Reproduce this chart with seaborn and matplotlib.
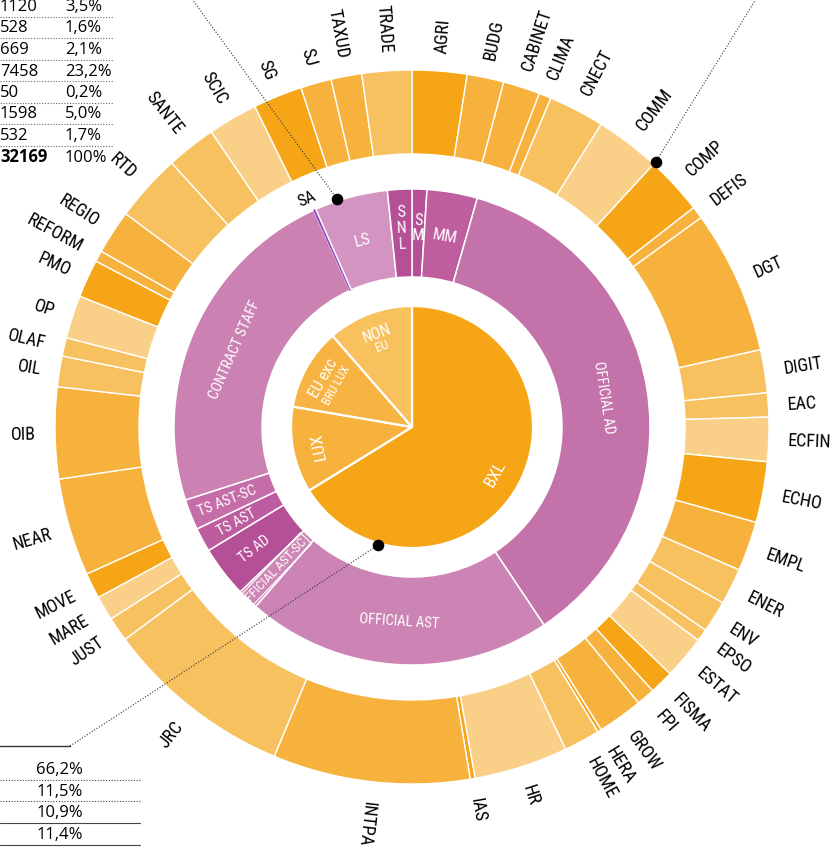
import matplotlib
matplotlib.use("Agg")
import matplotlib.pyplot as plt
from matplotlib import font_manager
import numpy as np
import seaborn as sns

# ---------------- data ----------------
dg_names = ["AGRI", "BUDG", "CABINET", "CLIMA", "CNECT", "COMM", "COMP", "DEFIS",
            "DGT", "DIGIT", "EAC", "ECFIN", "ECHO", "EMPL", "ENER", "ENV", "EPSO",
            "ESTAT", "FISMA", "FPI", "GROW", "HERA", "HOME", "HR", "IAS", "INTPA",
            "JRC", "JUST", "MARE", "MOVE", "NEAR", "OIB", "OIL", "OLAF", "OP", "PMO",
            "REFORM", "REGIO", "RTD", "SANTE", "SCIC", "SG", "SJ", "TAXUD", "TRADE"]
dg_staff = [795, 536, 536, 179, 813, 947, 849, 179,
            2091, 626, 349, 643, 885, 724, 527, 465, 179,
            626, 349, 268, 661, 54, 527, 1367, 71, 2868,
            2752, 357, 357, 375, 1421, 1331, 447, 268, 626, 554,
            161, 643, 983, 724, 724, 715, 447, 447, 724]
dg_shade = [0, 1, 1, 1, 2, 3, 0, 1,
            1, 2, 2, 3, 0, 1, 2, 2, 2,
            3, 0, 1, 1, 0, 2, 3, 0, 1,
            2, 2, 3, 0, 1, 1, 2, 2, 3, 0,
            1, 1, 2, 2, 3, 0, 1, 1, 2]

cat_names = ["SM", "MM", "OFFICIAL AD", "OFFICIAL AST", "OFFICIAL AST-SC", "TS AD",
             "TS AST", "TS AST-SC", "CONTRACT STAFF", "SA", "LS", "SNL"]
cat_staff = [324, 1100, 11650, 6680, 460, 1120, 528, 669, 7458, 50, 1598, 532]

loc_names = ["BXL", "LUX", "EU exc", "NON"]
loc_sub = ["", "", "BRU LUX", "EU"]
loc_share = [66.2, 11.5, 10.9, 11.4]

table_counts = ["1120", "528", "669", "7458", "50", "1598", "532", "32169"]
table_pcts = ["3,5%", "1,6%", "2,1%", "23,2%", "0,2%", "5,0%", "1,7%", "100%"]
loc_pcts = ["66,2%", "11,5%", "10,9%", "11,4%"]

# ---------------- style ----------------
orange = ["#F5A516", "#F7B23E", "#F8C160", "#FAD088"]
cat_colors = ["#B54F97", "#BF5E9E", "#C473AA", "#CC84B4", "#CD86B5", "#B54F96",
              "#BD5DA0", "#C56DA9", "#CB82B3", "#8C43BF", "#D494C1", "#B54F96"]
loc_colors = ["#F5A516", "#F7B23D", "#F7B443", "#F8C15E"]
cat_mode = {"SM": "stack", "MM": "tan", "OFFICIAL AD": "tan", "OFFICIAL AST": "tan",
            "OFFICIAL AST-SC": "box", "TS AD": "rad", "TS AST": "rad", "TS AST-SC": "rad",
            "CONTRACT STAFF": "tan", "SA": "out", "LS": "tan", "SNL": "stack"}

sns.set_theme(style="white")
have = {f.name for f in font_manager.fontManager.ttflist}
narrow = next((f for f in ["Liberation Sans Narrow", "Roboto Condensed", "Open Sans Condensed"]
               if f in have), "Roboto")
plt.rcParams["font.family"] = [narrow, "DejaVu Sans"]
table_font = "Open Sans" if "Open Sans" in have else "DejaVu Sans"

W, H = 833, 854
fig = plt.figure(figsize=(W / 100, H / 100), dpi=100)
ax = fig.add_axes([0, 0, 1, 1])
cx, cy = 412, H - 428

R_PIE, R_MID_IN, R_MID, R_OUT_IN, R_OUT = 121, 150, 238, 273, 357


def polar(r, theta):
    """theta in degrees, clockwise from 12 o'clock"""
    t = np.radians(theta)
    return cx + r * np.sin(t), cy + r * np.cos(t)


def mids(values):
    v = np.asarray(values, float)
    cum = np.cumsum(v) / v.sum() * 360
    return cum - v / v.sum() * 180, cum


def norm(rot, lo=-90):
    while rot <= lo:
        rot += 180
    while rot > lo + 180:
        rot -= 180
    return rot


# rings
ax.pie(loc_share, radius=R_PIE, center=(cx, cy), startangle=90, counterclock=False,
       colors=loc_colors, wedgeprops=dict(edgecolor="white", linewidth=1.6))
mid_w, _ = ax.pie(cat_staff, radius=R_MID, center=(cx, cy), startangle=90, counterclock=False,
                  colors=cat_colors,
                  wedgeprops=dict(width=R_MID - R_MID_IN, edgecolor="white", linewidth=1.1))
sa = cat_names.index("SA")
mid_w[sa].set_edgecolor(cat_colors[sa])
mid_w[sa].set_linewidth(0.6)
ax.pie(dg_staff, radius=R_OUT, center=(cx, cy), startangle=90, counterclock=False,
       colors=[orange[s] for s in dg_shade],
       wedgeprops=dict(width=R_OUT - R_OUT_IN, edgecolor="white", linewidth=1.0))

# outer labels
dg_mid, dg_end = mids(dg_staff)
for name, m in zip(dg_names, dg_mid):
    x, y = polar(376, m)
    ang = 90 - m
    if m < 195:
        rot, ha = ang, "left"
    else:
        rot, ha = ang + 180, "right"
    ax.text(x, y, name, rotation=rot, rotation_mode="anchor", ha=ha, va="center",
            fontsize=13, color="black")

# middle labels
cat_mid, cat_end = mids(cat_staff)
for name, m in zip(cat_names, cat_mid):
    mode = cat_mode[name]
    ang = 90 - m
    if mode == "tan":
        x, y = polar(194, m)
        fs = 12 if len(name) <= 2 else 10.5
        ax.text(x, y, name, rotation=norm(ang - 90), rotation_mode="anchor",
                ha="center", va="center", fontsize=fs, color="white")
    elif mode == "stack":
        x, y = polar(200, m)
        ax.text(x, y, "\n".join(name), rotation=norm(ang - 90), rotation_mode="anchor",
                ha="center", va="center", fontsize=11.5, color="white", linespacing=1.05)
    elif mode == "rad":
        x, y = polar(199, m)
        ax.text(x, y, name, rotation=norm(ang), rotation_mode="anchor",
                ha="center", va="center", fontsize=10.5, color="white")
    elif mode == "box":
        x, y = polar(200, m)
        ax.text(x, y, name, rotation=norm(ang), rotation_mode="anchor",
                ha="center", va="center", fontsize=9.5, color="white",
                bbox=dict(boxstyle="square,pad=0.1", fc="none", ec="white", lw=0.8))
    else:
        x, y = polar(252, m - 0.6)
        ax.text(x, y, name, rotation=norm(ang - 90), rotation_mode="anchor",
                ha="center", va="center", fontsize=12, color="black")

# pie labels
loc_mid, _ = mids(loc_share)
for name, sub, m in zip(loc_names, loc_sub, loc_mid):
    rot = norm(90 - m + 90, lo=-75)
    x, y = polar(95, m)
    if sub:
        t = np.radians(rot)
        ux, uy = -np.sin(t), np.cos(t)
        ax.text(x + 6 * ux, y + 6 * uy, name, rotation=rot, rotation_mode="anchor",
                ha="center", va="center", fontsize=11.5, color="white")
        ax.text(x - 8 * ux, y - 8 * uy, sub, rotation=rot, rotation_mode="anchor",
                ha="center", va="center", fontsize=9, color="white")
    else:
        ax.text(x, y, name, rotation=rot, rotation_mode="anchor", ha="center", va="center",
                fontsize=12.5, color="white")

# leader lines and dots
dot_ms = polar(R_MID + 2, 341.8)
dot_dg = polar(R_OUT + 3, dg_end[dg_names.index("COMM")])
dot_loc = polar(R_PIE + 2, 196)
dots = dict(ls=(0, (1, 1.6)), color="#333333", lw=0.8)
ax.plot([192, dot_ms[0]], [H, dot_ms[1]], **dots)
ax.plot([756, dot_dg[0]], [H, dot_dg[1]], **dots)
ax.plot([70, dot_loc[0]], [H - 747, dot_loc[1]], **dots)
ax.plot([0, 70], [H - 747, H - 747], color="#333333", lw=1.0)
for px, py in (dot_ms, dot_dg, dot_loc):
    ax.scatter(px, py, s=70, color="black", zorder=5, linewidths=0)

# top-left table (category totals)
for i, (c, p) in enumerate(zip(table_counts, table_pcts)):
    yy = H - (7 + 21.5 * i)
    bold = i == len(table_counts) - 1
    ax.text(0, yy, c, ha="left", va="center", fontsize=12, family=table_font,
            fontweight="bold" if bold else "normal", color="black")
    ax.text(65, yy, p, ha="left", va="center", fontsize=12, family=table_font, color="black")
    if not bold:
        ax.plot([0, 113], [yy - 10.5, yy - 10.5], ls=(0, (1, 1.5)), color="#666666", lw=0.8)

# bottom-left table (location shares)
for i, p in enumerate(loc_pcts):
    yy = H - (770 + 21.7 * i)
    ax.text(83, yy, p, ha="right", va="center", fontsize=12, family=table_font, color="black")
    ls = "-" if i >= 2 else (0, (1, 1.5))
    ax.plot([0, 140], [yy - 10.5, yy - 10.5], ls=ls, color="#444444", lw=0.8)

ax.set_xlim(0, W)
ax.set_ylim(0, H)
ax.set_aspect("equal")
ax.axis("off")
fig.savefig("out.png", dpi=100)
